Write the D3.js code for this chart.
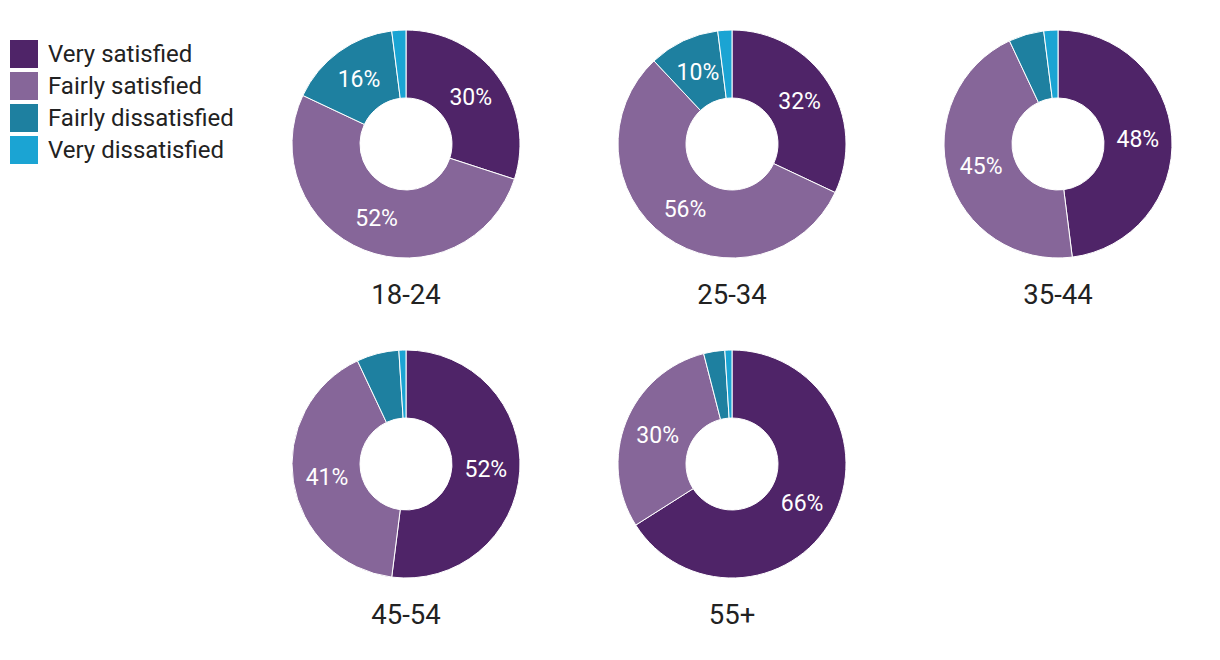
<!DOCTYPE html>
<html><head><meta charset="utf-8">
<script src="https://cdn.jsdelivr.net/npm/d3@7"></script>
<style>body{margin:0;background:#fff;font-family:Roboto,sans-serif;}</style>
</head><body>
<svg id="chart" width="1220" height="660"></svg>
<script>
const categories = ["Very satisfied","Fairly satisfied","Fairly dissatisfied","Very dissatisfied"];
const colors = ["#4f2468","#866699","#1e80a0","#1ba4d3"];
const groups = ["18-24","25-34","35-44","45-54","55+"];
const v18_24 = [30,52,16,2];
const v25_34 = [32,56,10,2];
const v35_44 = [48,45,5,2];
const v45_54 = [52,41,6,1];
const v55p   = [66,30,3,1];
const values = [v18_24,v25_34,v35_44,v45_54,v55p];

const svg = d3.select("#chart");
const color = d3.scaleOrdinal().domain(categories).range(colors);

// legend
const lg = svg.append("g");
categories.forEach((c,i)=>{
  const g = lg.append("g").attr("transform",`translate(10,${40+i*32})`);
  g.append("rect").attr("width",28).attr("height",28).attr("fill",color(c));
  g.append("text").attr("x",38).attr("y",22).attr("font-size",24).attr("fill","#222").text(c);
});

const outerR = 114, innerR = 46;
const pie = d3.pie().sort(null).value(d=>d.v);
const arc = d3.arc().innerRadius(innerR).outerRadius(outerR);
const centers = [[406,144],[732,144],[1058,144],[406,464],[732,464]];

groups.forEach((gname,gi)=>{
  const data = categories.map((c,i)=>({c, v: values[gi][i]}));
  const g = svg.append("g").attr("transform",`translate(${centers[gi][0]},${centers[gi][1]})`);
  const arcs = pie(data);
  g.selectAll("path").data(arcs).enter().append("path")
    .attr("d",arc).attr("fill",d=>color(d.data.c))
    .attr("stroke","#fff").attr("stroke-width",1);
  g.selectAll("text.lbl").data(arcs.filter(d=>d.data.v>=10)).enter().append("text")
    .attr("class","lbl")
    .attr("transform",d=>`translate(${arc.centroid(d)})`)
    .attr("text-anchor","middle").attr("dy","0.35em")
    .attr("font-size",23).attr("fill","#fff")
    .text(d=>d.data.v+"%");
  g.append("text").attr("x",0).attr("y",160).attr("text-anchor","middle")
    .attr("font-size",27.5).attr("fill","#222").text(gname);
});
</script>
</body></html>
